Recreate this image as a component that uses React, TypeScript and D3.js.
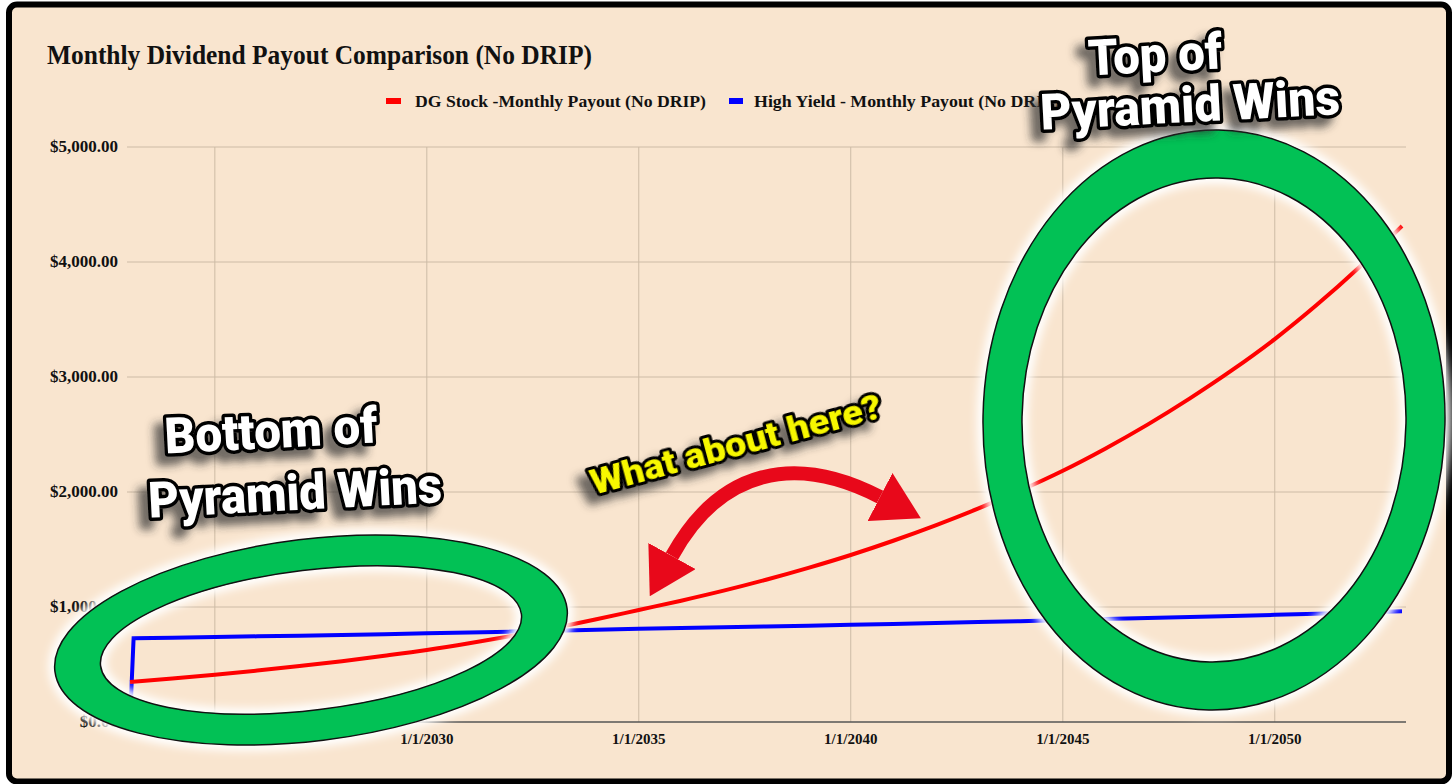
import React from "react";
import * as d3 from "d3";

// ---- data ----
const years = [
  2023, 2024, 2025, 2026, 2027, 2028, 2029, 2030, 2031, 2032, 2033, 2034, 2035, 2036, 2037, 2038,
  2039, 2040, 2041, 2042, 2043, 2044, 2045, 2046, 2047, 2048, 2049, 2050, 2051, 2052, 2053,
];
const dgMonthlyPayout = [
  348, 378, 411, 447, 487, 529, 576, 626, 684, 748, 817, 893, 974, 1055, 1142, 1237,
  1340, 1452, 1576, 1710, 1855, 2013, 2185, 2377, 2586, 2814, 3061, 3330, 3630, 3957, 4313,
];
// High yield: first month payout, then yearly values (first one is Feb 2023)
const hyFirstMonthPayout = 0;
const hyMonthlyPayout = [
  728, 733, 739, 745, 751, 757, 764, 771, 778, 786, 794, 802, 810, 817, 824, 831,
  838, 845, 853, 861, 869, 877, 886, 895, 904, 913, 922, 932, 942, 952, 963,
];
const yTicks = [0, 1000, 2000, 3000, 4000, 5000];
const xGridYears = [2025, 2030, 2035, 2040, 2045, 2050];

const title = "Monthly Dividend Payout Comparison (No DRIP)";
const seriesNames = ["DG Stock -Monthly Payout (No DRIP)", "High Yield - Monthly Payout (No DRIP)"];

const W = 1456;
const H = 784;
const BG = "#f9e5cf";
const GRID = "#cdbba6";
const GREEN = "#02c155";
const ARROW = "#e8081a";

function ringPath(rxo: number, ryo: number, rxi: number, ryi: number) {
  const e = (rx: number, ry: number) =>
    `M${-rx},0 A${rx},${ry} 0 1,0 ${rx},0 A${rx},${ry} 0 1,0 ${-rx},0 Z`;
  return e(rxo, ryo) + " " + e(rxi, ryi);
}

export default function App() {
  const x = d3
    .scaleTime()
    .domain([new Date(2023, 0, 1), new Date(2053, 0, 1)])
    .range([130, 1402]);
  const y = d3.scaleLinear().domain([0, 5000]).range([722, 147]);
  const plotLeft = 127;
  const plotRight = 1406;

  const dgData = years.map((yr, i) => ({ d: new Date(yr, 0, 1), v: dgMonthlyPayout[i] }));
  const hyData = [
    { d: new Date(2023, 0, 1), v: hyFirstMonthPayout },
    ...years.map((yr, i) => ({ d: i === 0 ? new Date(2023, 1, 1) : new Date(yr, 0, 1), v: hyMonthlyPayout[i] })),
  ];
  const line = d3
    .line<{ d: Date; v: number }>()
    .x((p) => x(p.d))
    .y((p) => y(p.v))
    .curve(d3.curveMonotoneX);
  const hyLine = d3
    .line<{ d: Date; v: number }>()
    .x((p) => x(p.d))
    .y((p) => y(p.v));

  const fmt = (v: number) => "$" + d3.format(",.2f")(v);

  const annoText = {
    fontFamily: "Roboto, 'Open Sans', sans-serif",
    fontWeight: 900,
    fill: "#ffffff",
    stroke: "#000",
    strokeWidth: 7,
    paintOrder: "stroke",
    strokeLinejoin: "round" as const,
  };

  return (
    <svg
      width={W}
      height={H}
      style={{ position: "absolute", left: 0, top: 0, background: "#fff" }}
    >
      <defs>
        <filter id="blur" x="-20%" y="-20%" width="140%" height="140%">
          <feGaussianBlur stdDeviation="4" />
        </filter>
        <filter id="tshadow" x="-20%" y="-40%" width="140%" height="200%">
          <feGaussianBlur in="SourceAlpha" stdDeviation="4" result="b" />
          <feOffset in="b" dx="-9" dy="9" result="o" />
          <feFlood floodColor="#333" floodOpacity="0.7" />
          <feComposite in2="o" operator="in" result="s" />
          <feMerge>
            <feMergeNode in="s" />
            <feMergeNode in="SourceGraphic" />
          </feMerge>
        </filter>
        <marker
          id="ah"
          viewBox="0 0 46 54"
          refX="0"
          refY="27"
          markerWidth="46"
          markerHeight="54"
          markerUnits="userSpaceOnUse"
          orient="auto-start-reverse"
        >
          <path d="M0,0 L46,27 L0,54 Z" fill={ARROW} />
        </marker>
      </defs>

      {/* frame */}
      <rect x={9} y={4.5} width={1440} height={777} rx={8} fill={BG} stroke="#000" strokeWidth={6} />

      {/* title */}
      <text
        x={47}
        y={64}
        fontFamily="'Liberation Serif', 'Times New Roman', serif"
        fontWeight="bold"
        fontSize={27}
        textLength={545}
        lengthAdjust="spacingAndGlyphs"
        fill="#111"
      >
        {title}
      </text>

      {/* legend */}
      <rect x={386} y={98} width={15} height={6} fill="#ff0000" />
      <text x={415} y={107} fontFamily="'Liberation Serif', serif" fontWeight="bold" fontSize={17}
        textLength={291} lengthAdjust="spacingAndGlyphs" fill="#111">
        {seriesNames[0]}
      </text>
      <rect x={729} y={98} width={14} height={6} fill="#0000ff" />
      <text x={754} y={107} fontFamily="'Liberation Serif', serif" fontWeight="bold" fontSize={17}
        textLength={306} lengthAdjust="spacingAndGlyphs" fill="#111">
        {seriesNames[1]}
      </text>

      {/* grid */}
      {yTicks.map((t) => (
        <g key={"y" + t}>
          {t > 0 && <line x1={plotLeft} x2={plotRight} y1={y(t)} y2={y(t)} stroke={GRID} strokeWidth={1} />}
          <text x={118} y={y(t) + 5} textAnchor="end" fontFamily="'Liberation Serif', serif"
            fontWeight="bold" fontSize={17} fill="#111">
            {fmt(t)}
          </text>
        </g>
      ))}
      {xGridYears.map((yr) => (
        <g key={"x" + yr}>
          <line x1={x(new Date(yr, 0, 1))} x2={x(new Date(yr, 0, 1))} y1={y(5000)} y2={y(0)} stroke={GRID} strokeWidth={1} />
          <text x={x(new Date(yr, 0, 1))} y={744} textAnchor="middle" fontFamily="'Liberation Serif', serif"
            fontWeight="bold" fontSize={15} fill="#111">
            {"1/1/" + yr}
          </text>
        </g>
      ))}
      <line x1={plotLeft} x2={plotRight} y1={y(0)} y2={y(0)} stroke="#555" strokeWidth={1.5} />

      {/* series */}
      <path d={hyLine(hyData) || ""} fill="none" stroke="#0000ff" strokeWidth={4} />
      <path d={line(dgData) || ""} fill="none" stroke="#ff0000" strokeWidth={4} />

      {/* left ring */}
      <g transform="translate(311,640) rotate(-7)">
        <path d={ringPath(258, 101, 212, 70)} fillRule="evenodd" fill="#fff" stroke="#fff" strokeWidth={12} filter="url(#blur)" />
        <path d={ringPath(258, 101, 212, 70)} fillRule="evenodd" fill={GREEN} stroke="#111" strokeWidth={1.5} />
      </g>
      {/* right ring */}
      <g transform="translate(1214,420) rotate(1)">
        <path d={ringPath(231, 290, 192, 242)} fillRule="evenodd" fill="#fff" stroke="#fff" strokeWidth={12} filter="url(#blur)" />
        <path d={ringPath(231, 290, 192, 242)} fillRule="evenodd" fill={GREEN} stroke="#111" strokeWidth={1.5} />
      </g>

      {/* arrow */}
      <path
        d="M672,556 C720,469 795,453 880,497"
        fill="none"
        stroke={ARROW}
        strokeWidth={14}
        markerStart="url(#ah)"
        markerEnd="url(#ah)"
      />

      {/* annotation texts */}
      <g filter="url(#tshadow)">
        <text x={271} y={448} textAnchor="middle" fontSize={50} textLength={213} lengthAdjust="spacingAndGlyphs"
          transform="rotate(-3 271 430)" {...annoText}>
          Bottom of
        </text>
        <text x={295} y={510} textAnchor="middle" fontSize={50} textLength={294} lengthAdjust="spacingAndGlyphs"
          transform="rotate(-3 295 492)" {...annoText}>
          Pyramid Wins
        </text>
        <text x={1155} y={72} textAnchor="middle" fontSize={50} textLength={134} lengthAdjust="spacingAndGlyphs"
          transform="rotate(-3 1155 55)" {...annoText}>
          Top of
        </text>
        <text x={1190} y={122} textAnchor="middle" fontSize={50} textLength={300} lengthAdjust="spacingAndGlyphs"
          transform="rotate(-3 1190 104)" {...annoText}>
          Pyramid Wins
        </text>
        <text x={739} y={456} textAnchor="middle" fontSize={35} textLength={300} lengthAdjust="spacingAndGlyphs"
          transform="rotate(-15 739 456)" {...annoText} fill="#f7f700" strokeWidth={6}>
          What about here?
        </text>
      </g>
    </svg>
  );
}
